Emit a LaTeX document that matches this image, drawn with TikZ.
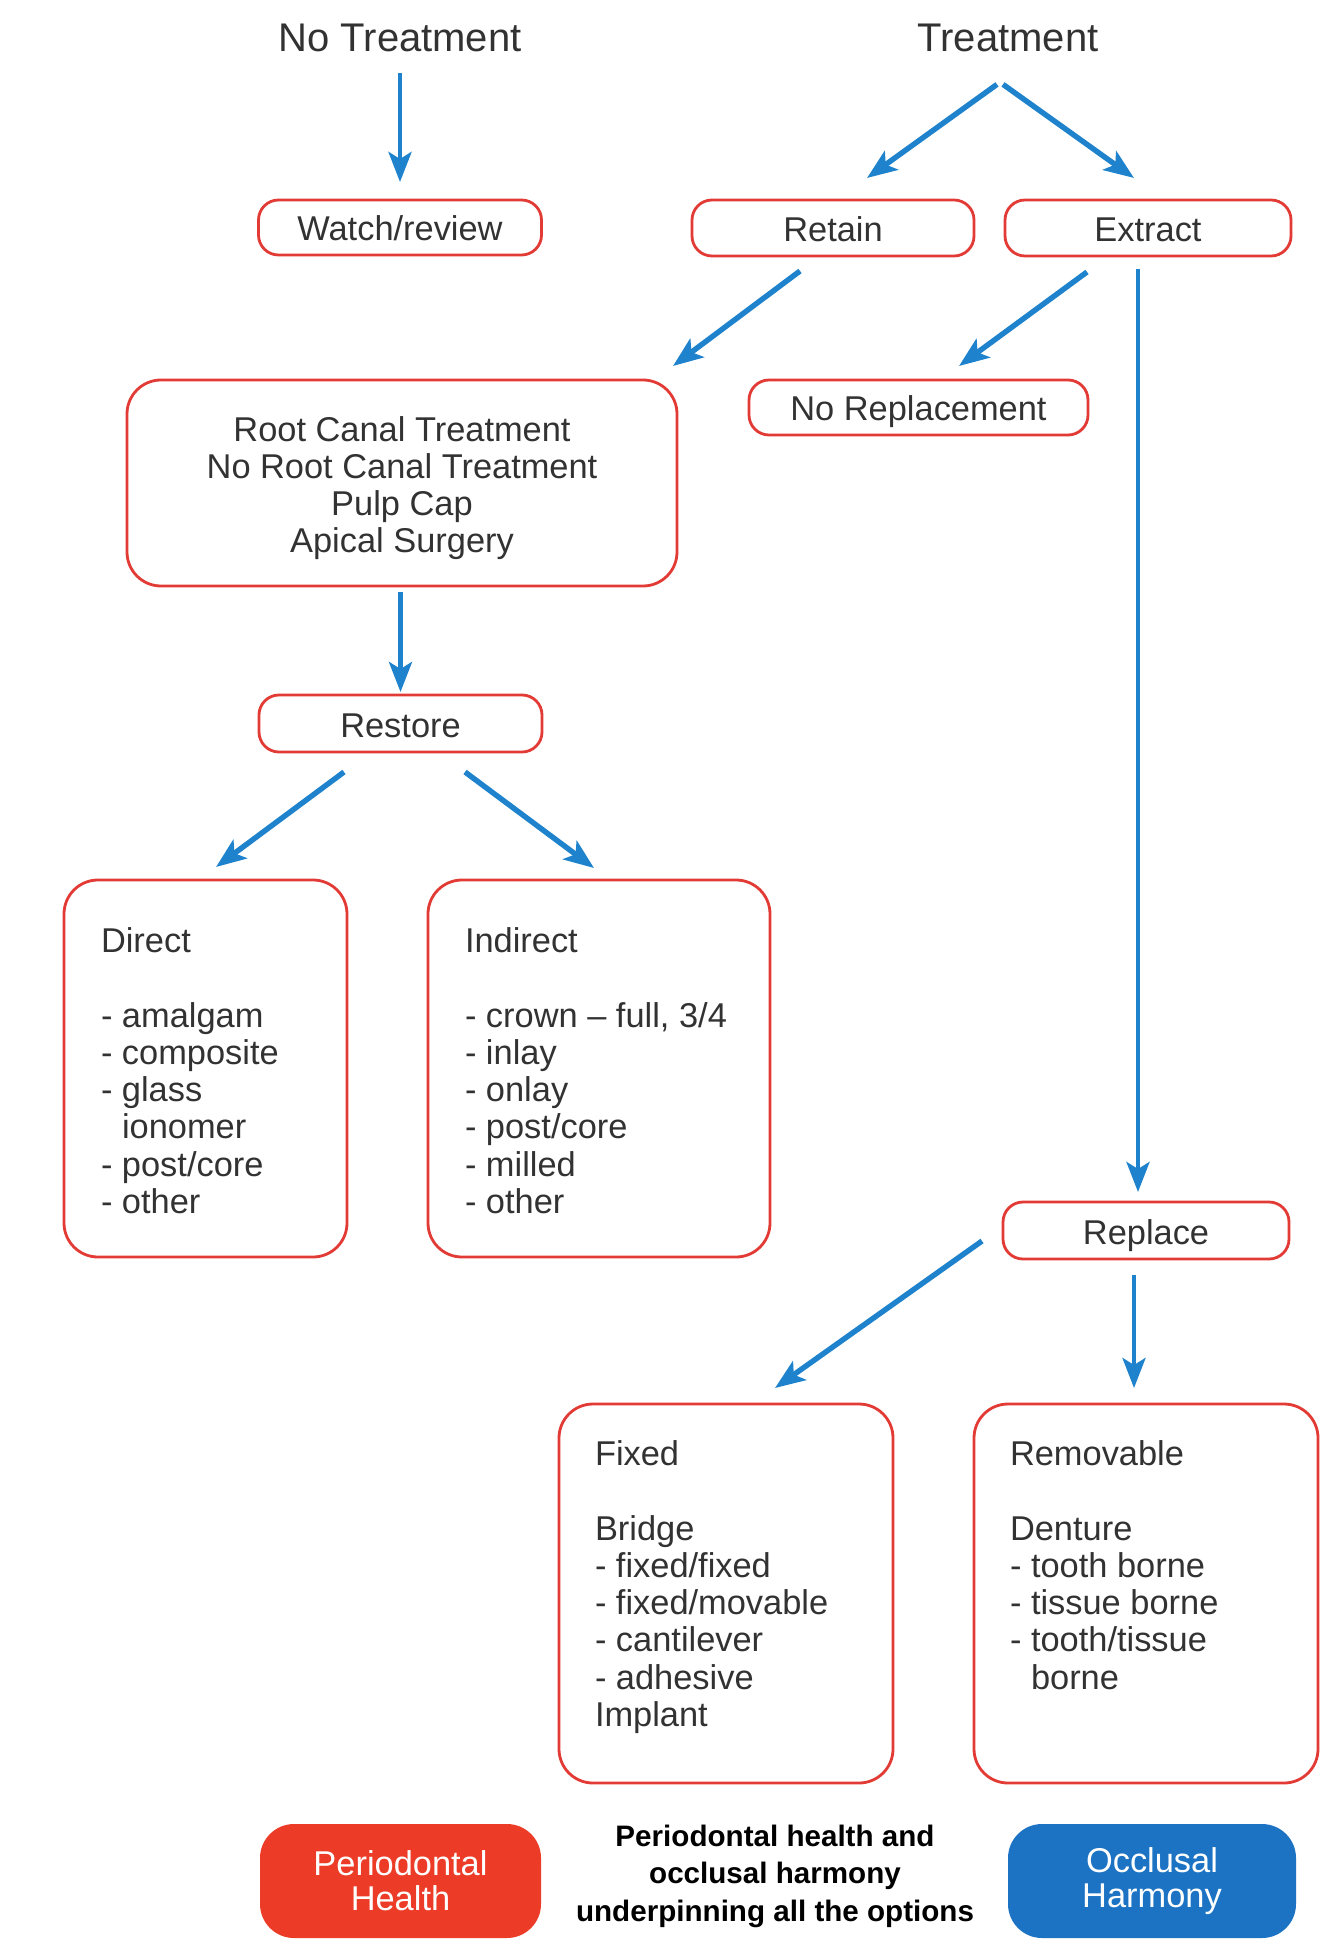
\documentclass[tikz,border=0pt]{standalone}
\usepackage{fontspec}
\setmainfont{Liberation Sans}
\usetikzlibrary{arrows.meta,calc}
\definecolor{boxred}{RGB}{226,58,52}
\definecolor{arrblue}{RGB}{30,130,205}
\definecolor{fillred}{RGB}{236,60,40}
\definecolor{fillblue}{RGB}{28,115,196}
\definecolor{txtgray}{RGB}{50,50,50}
\begin{document}
\begin{tikzpicture}[x=0.5pt,y=-0.5pt,
  every node/.style={inner sep=0pt, outer sep=0pt},
  lbl/.style={font=\fontsize{17.2}{18.6}\selectfont, text=txtgray},
  title/.style={font=\fontsize{20}{24}\selectfont, text=txtgray, anchor=base},
  sbox/.style={lbl, draw=boxred, line width=1.4pt, rounded corners=10pt, text height=13.5pt, text depth=0pt},
  bbox/.style={draw=boxred, line width=1.4pt, rounded corners=17pt},
  listtxt/.style={lbl, align=left, anchor=north west},
  fbox/.style={rounded corners=17pt, text=white, font=\fontsize{17.2}{17.5}\selectfont, align=center},
  arr/.style={draw=arrblue, line width=2.3pt, -{Stealth[length=15pt,width=11.5pt,inset=3.5pt]}},
  darr/.style={arr, line width=2.7pt}
]
\useasboundingbox (0,0) rectangle (1325,1946);

% titles
\node[title] (notreat) at (400,52) {No Treatment};
\node[title] (treat) at (1008,52) {Treatment};

% small boxes
\node[sbox, minimum width=141.5pt, minimum height=27.5pt] (watch) at (400,227.5) {Watch/review};
\node[sbox, minimum width=141pt, minimum height=28pt] (retain) at (833,228) {Retain};
\node[sbox, minimum width=143pt, minimum height=28pt] (extract) at (1148,228) {Extract};
\node[sbox, minimum width=169.5pt, minimum height=27.5pt] (norep) at (918.5,407.5) {No Replacement};
\node[sbox, minimum width=141.5pt, minimum height=28.5pt] (restore) at (400.5,723.5) {Restore};
\node[sbox, minimum width=143pt, minimum height=28.5pt] (replace) at (1146,1230.5) {Replace};

% big boxes
\node[bbox, lbl, align=center, minimum width=275pt, minimum height=103pt] (rct) at (402,483)
  {\rule{0pt}{17.5pt}Root Canal Treatment\\No Root Canal Treatment\\Pulp Cap\\Apical Surgery};

\node[bbox, minimum width=141.5pt, minimum height=188.5pt] (direct) at (205.5,1068.5) {};
\node[listtxt] (directtxt) at ($(direct.north west)+(37,48)$)
  {Direct\\[18.6pt]- amalgam\\- composite\\- glass\\\hphantom{- }ionomer\\- post/core\\- other};

\node[bbox, minimum width=171pt, minimum height=188.5pt] (indirect) at (599,1068.5) {};
\node[listtxt] (indirecttxt) at ($(indirect.north west)+(37,48)$)
  {Indirect\\[18.6pt]- crown – full, 3/4\\- inlay\\- onlay\\- post/core\\- milled\\- other};

\node[bbox, minimum width=167pt, minimum height=189.5pt] (fixed) at (726,1593.5) {};
\node[listtxt] (fixedtxt) at ($(fixed.north west)+(36,37)$)
  {Fixed\\[18.6pt]Bridge\\- fixed/fixed\\- fixed/movable\\- cantilever\\- adhesive\\Implant};

\node[bbox, minimum width=172pt, minimum height=189.5pt] (removable) at (1146,1593.5) {};
\node[listtxt] (removabletxt) at ($(removable.north west)+(36,37)$)
  {Removable\\[18.6pt]Denture\\- tooth borne\\- tissue borne\\- tooth/tissue\\\hphantom{- }borne};

% bottom
\node[fbox, fill=fillred, minimum width=140.5pt, minimum height=57pt] (perio) at (400.5,1881) {Periodontal\\Health};
\node[fbox, fill=fillblue, minimum width=144pt, minimum height=57pt] (occl) at (1152,1881) {Occlusal\\Harmony};
\node[font=\bfseries\fontsize{14.8}{18.75}\selectfont, align=center, text=black] (under) at (775,1876)
  {Periodontal health and\\occlusal harmony\\underpinning all the options};

% arrows
\draw[arr] ($(notreat.south)+(0,21)$) -- ($(watch.north)+(0,-18)$);
\draw[darr] ($(treat.south)+(-11,32)$) -- ($(retain.north)+(34,-22)$);
\draw[darr] ($(treat.south)+(-5,32)$) -- ($(extract.north)+(-14,-22)$);
\draw[darr] ($(retain.south)+(-33,15)$) -- ($(rct.north east)+(-4,-14)$);
\draw[darr] ($(extract.south)+(-61,16)$) -- ($(norep.north)+(40.5,-14)$);
\draw[arr] ($(extract.south)+(-10,13)$) -- ($(replace.north)+(-8,-10)$);
\draw[arr] ($(rct.south)+(-1.5,6)$) -- ($(restore.north)+(0,-3)$);
\draw[darr] ($(restore.south)+(-56.5,20)$) -- ($(direct.north)+(10.5,-13)$);
\draw[darr] ($(restore.south)+(64.5,20)$) -- ($(indirect.north)+(-5,-12)$);
\draw[darr] ($(replace.west)+(-21,10.5)$) -- ($(fixed.north)+(49,-16)$);
\draw[arr] ($(replace.south)+(-12,16)$) -- ($(removable.north)+(-12,-16)$);
\end{tikzpicture}
\end{document}
